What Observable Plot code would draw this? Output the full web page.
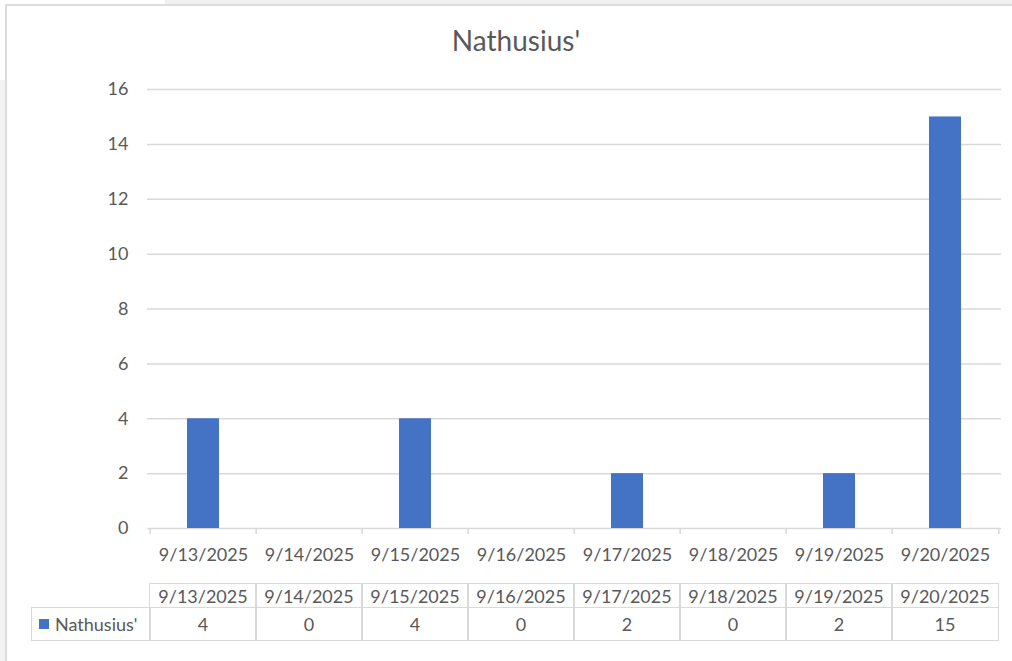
<!DOCTYPE html>
<html><head><meta charset="utf-8">
<script src="https://cdn.jsdelivr.net/npm/d3@7"></script>
<script src="https://cdn.jsdelivr.net/npm/@observablehq/plot@0.6"></script>
<style>
body{margin:0;background:#fff;width:1012px;height:661px;overflow:hidden;position:relative;font-family:Lato, "Noto Sans", sans-serif;color:#595959;}
.abs{position:absolute;}
#title{left:316px;width:400px;top:23px;text-align:center;font-size:28px;line-height:34px;}
#chart{left:0;top:0;}
.cell{position:absolute;box-sizing:border-box;border:1.5px solid #d9d9d9;display:flex;align-items:center;justify-content:center;font-size:18px;white-space:nowrap;}
</style></head><body>
<div class="abs" style="left:165px;top:0;width:847px;height:4px;background:#eff0f0"></div>
<div class="abs" style="left:5px;top:4px;width:1007px;height:2px;background:#dcdcdc"></div>
<div class="abs" style="left:0;top:80px;width:5px;height:581px;background:#f3f3f3"></div>
<div class="abs" style="left:5px;top:4px;width:2px;height:657px;background:#dcdcdc"></div>
<div id="title" class="abs">Nathusius'</div>
<div id="chart" class="abs"></div>
<div id="table" class="abs" style="left:0;top:0;"></div>
<script>
const dates = ["9/13/2025","9/14/2025","9/15/2025","9/16/2025","9/17/2025","9/18/2025","9/19/2025","9/20/2025"];
const counts = [4,0,4,0,2,0,2,15];
const seriesName = "Nathusius'";
const yTicks = [0,2,4,6,8,10,12,14,16];
const barColor = "#4472c4";

const data = dates.map((d,i)=>({date:d, count:counts[i]}));
const W = 1012, H = 570, mL = 147, mR = 11, mT = 89, mB = 42;
const step = (W - mL - mR) / dates.length;
const chart = Plot.plot({
  width: W, height: H, marginLeft: mL, marginRight: mR, marginTop: mT, marginBottom: mB,
  style: {fontFamily: "Lato, 'Noto Sans', sans-serif", fontSize: "18px", color: "#595959", background: "transparent", overflow: "visible"},
  x: {domain: dates, paddingInner: 0.7, paddingOuter: 0.35, axis: null, label: null},
  y: {domain: [0,16], axis: null, label: null},
  marks: [
    Plot.gridY(yTicks, {stroke: "#d9d9d9", strokeOpacity: 1, strokeWidth: 1.5}),
    Plot.barY(data, {x: "date", y: "count", fill: barColor}),
    Plot.axisY(yTicks, {tickSize: 0, tickPadding: 19, color: "#595959", fontSize: 18, label: null}),
    Plot.axisX({tickSize: 0, tickPadding: 20, color: "#595959", fontSize: 18, label: null}),
    Plot.axisX({tickSize: 6, tickFormat: () => "", dx: -step/2, stroke: "#d9d9d9", strokeOpacity: 1, strokeWidth: 1.5, label: null}),
    Plot.axisX([dates[dates.length-1]], {tickSize: 6, tickFormat: () => "", dx: step/2, stroke: "#d9d9d9", strokeOpacity: 1, strokeWidth: 1.5, label: null})
  ]
});
document.getElementById("chart").appendChild(chart);

// data table below the chart, columns aligned with the x scale
const sx = chart.scale("x");
const bw = sx.bandwidth;
const st = sx.step || (sx.apply(dates[1]) - sx.apply(dates[0]));
const tbl = document.getElementById("table");
function cell(left, top, w, h, html, extra) {
  const c = document.createElement("div");
  c.className = "cell";
  c.style.left = left + "px"; c.style.top = top + "px";
  c.style.width = w + "px"; c.style.height = h + "px";
  if (extra) Object.assign(c.style, extra);
  c.innerHTML = html;
  tbl.appendChild(c);
}
const rowTop1 = 583, rowH1 = 25, rowTop2 = 606.5, rowH2 = 34.5;
dates.forEach((d,i)=>{
  const x0 = sx.apply(d) + bw/2 - st/2 - 0.75;
  cell(x0, rowTop1, st + 1.5, rowH1, d);
  cell(x0, rowTop2, st + 1.5, rowH2, String(counts[i]));
});
const firstX = sx.apply(dates[0]) + bw/2 - st/2;
cell(31, rowTop2, firstX - 31 + 0.75, rowH2,
  `<span style="display:inline-block;width:10px;height:10px;background:${barColor};margin-right:6px"></span>${seriesName}`,
  {justifyContent: "flex-start", paddingLeft: "7px"});
</script>
</body></html>
